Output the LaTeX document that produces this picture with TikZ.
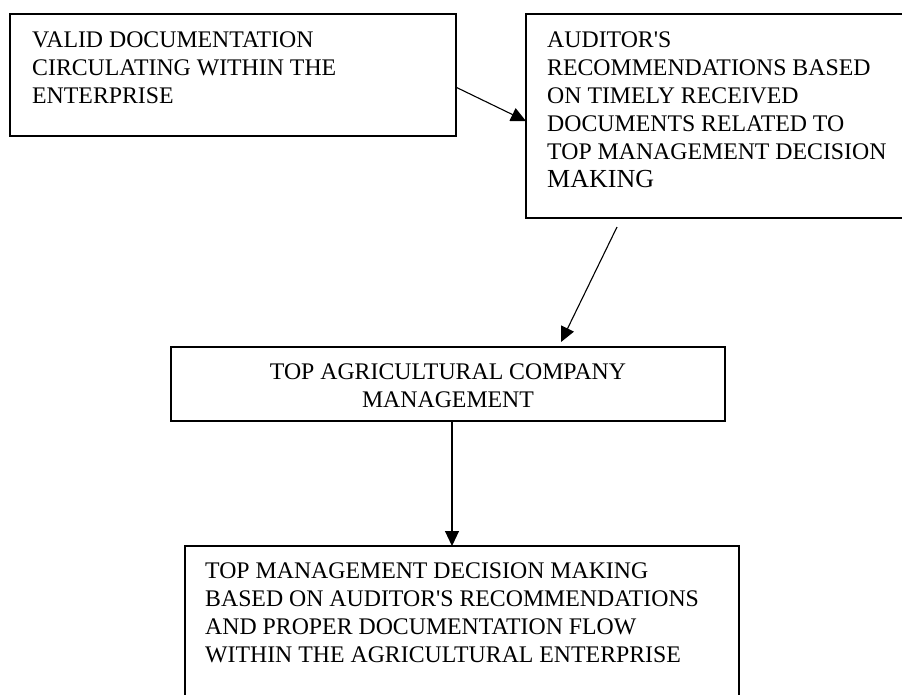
\documentclass[tikz,border=0pt]{standalone}
\usepackage{fontspec}
\setmainfont{Liberation Serif}[Ligatures=TeXOff]
\usetikzlibrary{arrows.meta,calc}
\begin{document}
\begin{tikzpicture}[x=1pt,y=-1pt,
  box/.style={draw, line width=1.5pt, rectangle, anchor=north west, inner sep=0pt, outer sep=0pt},
  txt/.style={anchor=base west, inner sep=0pt, align=left, font=\fontsize{23.8}{28}\selectfont},
  ctxt/.style={anchor=base, inner sep=0pt, align=center, font=\fontsize{23.8}{28}\selectfont},
  conn/.style={line width=1.1pt, -{Triangle[length=15pt,width=14pt]}}]
\useasboundingbox (0,0) rectangle (902,694);
\fill[white] (0,0) rectangle (902,694);
\node[box, minimum width=446pt, minimum height=122pt] (b1) at (10,14) {};
\node[box, minimum width=400pt, minimum height=204pt] (b2) at (526,14) {};
\node[box, minimum width=554pt, minimum height=74pt] (b3) at (171,347) {};
\node[box, minimum width=554pt, minimum height=200pt] (b4) at (185,546) {};
% base anchor = baseline of the last line
\node[txt] (t1) at (32,103) {VALID DOCUMENTATION\\CIRCULATING WITHIN THE\\ENTERPRISE};
\node[txt] (t2) at (547,187) {AUDITOR'S\\RECOMMENDATIONS BASED\\ON TIMELY RECEIVED\\DOCUMENTS RELATED TO\\TOP MANAGEMENT DECISION\\{\fontsize{26}{28}\selectfont MAKING}};
\node[ctxt] (t3) at (448,407) {TOP AGRICULTURAL COMPANY\\MANAGEMENT};
\node[txt] (t4) at (205,662) {TOP MANAGEMENT DECISION MAKING\\BASED ON AUDITOR'S RECOMMENDATIONS\\AND PROPER DOCUMENTATION FLOW\\WITHIN THE AGRICULTURAL ENTERPRISE};
\coordinate (a1s) at ($(b1.north east)!0.6!(b1.south east)$);
\coordinate (a1e) at ($(b2.north west)!0.525!(b2.south west)$);
\coordinate (a2s) at ($(b2.south west)+(91,9)$);
\coordinate (a2e) at ($(b3.north west)+(390,-5)$);
\coordinate (a3s) at ($(b3.south)+(4,0)$);
\coordinate (a3e) at (a3s |- b4.north);
\draw[conn] (a1s) -- (a1e);
\draw[conn] (a2s) -- (a2e);
\draw[conn] (a3s) -- (a3e);
\end{tikzpicture}
\end{document}
